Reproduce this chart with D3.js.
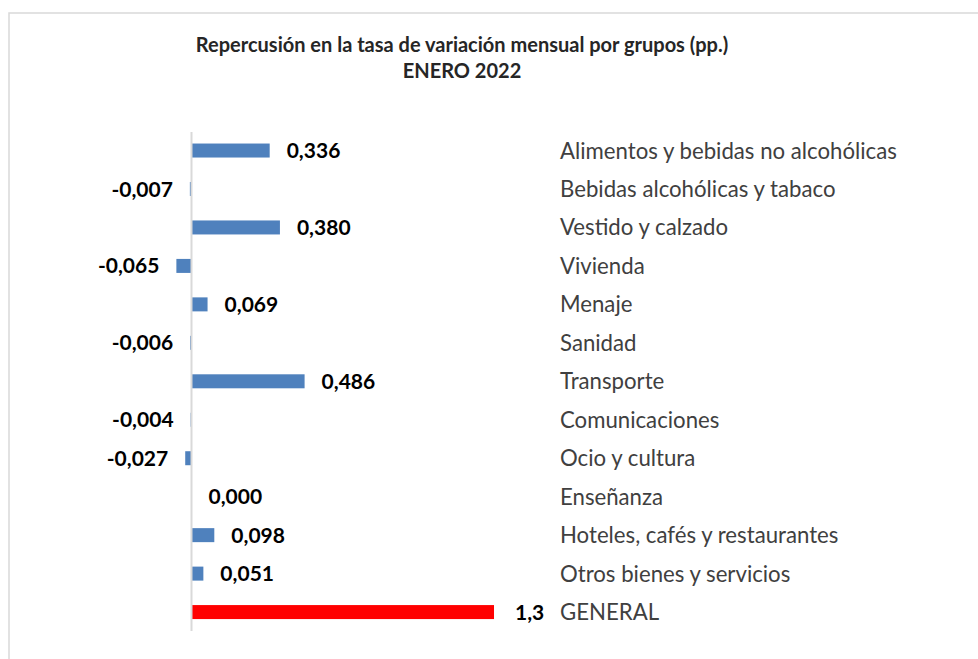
<!DOCTYPE html>
<html>
<head>
<meta charset="utf-8">
<script src="https://cdn.jsdelivr.net/npm/d3@7"></script>
<style>
  html, body { margin: 0; padding: 0; background: #fff; }
  svg { display: block; }
</style>
</head>
<body>
<svg id="chart" width="978" height="659"></svg>
<script>
const categories = [
  "Alimentos y bebidas no alcohólicas",
  "Bebidas alcohólicas y tabaco",
  "Vestido y calzado",
  "Vivienda",
  "Menaje",
  "Sanidad",
  "Transporte",
  "Comunicaciones",
  "Ocio y cultura",
  "Enseñanza",
  "Hoteles, cafés y restaurantes",
  "Otros bienes y servicios",
  "GENERAL"
];
const values = [0.336, -0.007, 0.380, -0.065, 0.069, -0.006, 0.486, -0.004, -0.027, 0.000, 0.098, 0.051, 1.3];
const valueLabels = ["0,336", "-0,007", "0,380", "-0,065", "0,069", "-0,006", "0,486", "-0,004", "-0,027", "0,000", "0,098", "0,051", "1,3"];
const titleLines = ["Repercusión en la tasa de variación mensual por grupos (pp.)", "ENERO 2022"];

const data = categories.map((c, i) => ({ cat: c, v: values[i], lab: valueLabels[i], total: c === "GENERAL" }));

const svg = d3.select("#chart");
const FONT = "Lato, 'Liberation Sans', Arial, sans-serif";

// outer chart border
svg.append("rect")
  .attr("x", 9).attr("y", 13)
  .attr("width", 990).attr("height", 700)
  .attr("fill", "none").attr("stroke", "#d9d9d9").attr("stroke-width", 1.5);

// title
svg.append("text")
  .attr("text-anchor", "middle")
  .attr("font-family", FONT)
  .attr("font-weight", "bold")
  .attr("font-size", 20)
  .attr("fill", "#262626")
  .selectAll("tspan").data(titleLines).join("tspan")
  .attr("x", 462)
  .attr("y", (d, i) => 52 + i * 26)
  .text(d => d);

const x = d3.scaleLinear().domain([-0.1, 1.4]).range([191.5 - 23.27, 191.5 + 1.4 * 232.7]);
const y = d3.scaleBand().domain(categories).range([131.3, 631.3]).paddingInner(0.636).paddingOuter(0.318);

// bars
svg.append("g").selectAll("rect").data(data).join("rect")
  .attr("x", d => x(Math.min(0, d.v)))
  .attr("y", d => y(d.cat))
  .attr("width", d => Math.abs(x(d.v) - x(0)))
  .attr("height", y.bandwidth())
  .attr("fill", d => d.total ? "#ff0000" : "#4f81bd");

// zero axis line
svg.append("line")
  .attr("x1", x(0)).attr("x2", x(0))
  .attr("y1", 132).attr("y2", 631)
  .attr("stroke", "#d9d9d9").attr("stroke-width", 2);

// value labels
svg.append("g").selectAll("text").data(data).join("text")
  .attr("x", d => d.v < 0 ? x(d.v) - 17 : x(d.v) + (d.total ? 21 : 17))
  .attr("y", d => y(d.cat) + y.bandwidth() / 2)
  .attr("dy", "0.36em")
  .attr("text-anchor", d => d.v < 0 ? "end" : "start")
  .attr("font-family", FONT)
  .attr("font-weight", "bold")
  .attr("font-size", 21)
  .attr("fill", "#000")
  .text(d => d.lab);

// category labels
svg.append("g").selectAll("text").data(data).join("text")
  .attr("x", 560)
  .attr("y", d => y(d.cat) + y.bandwidth() / 2)
  .attr("dy", "0.36em")
  .attr("font-family", FONT)
  .attr("font-size", 22.2)
  .attr("fill", "#404040")
  .text(d => d.cat);
</script>
</body>
</html>
